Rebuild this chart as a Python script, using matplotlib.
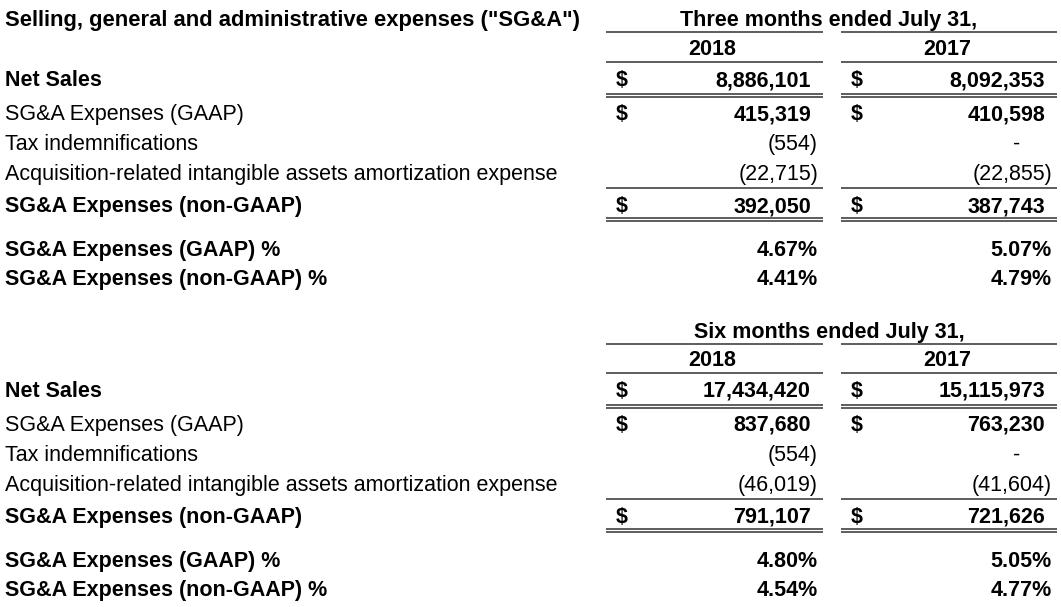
import matplotlib
matplotlib.use("Agg")
import matplotlib.pyplot as plt

plt.rcParams['font.family'] = ['Liberation Sans', 'DejaVu Sans']

title = 'Selling, general and administrative expenses ("SG&A")'
period_titles = ["Three months ended July 31,", "Six months ended July 31,"]
years = ["2018", "2017"]
row_labels = [
    "Net Sales",
    "SG&A Expenses (GAAP)",
    "Tax indemnifications",
    "Acquisition-related intangible assets amortization expense",
    "SG&A Expenses (non-GAAP)",
    "SG&A Expenses (GAAP) %",
    "SG&A Expenses (non-GAAP) %",
]
bold_labels = [True, False, False, False, True, True, True]
bold_values = [True, True, False, False, True, True, True]
dollar_rows = [True, True, False, False, True, False, False]

three_2018 = ["8,886,101", "415,319", "(554)", "(22,715)", "392,050", "4.67%", "4.41%"]
three_2017 = ["8,092,353", "410,598", "-", "(22,855)", "387,743", "5.07%", "4.79%"]
six_2018 = ["17,434,420", "837,680", "(554)", "(46,019)", "791,107", "4.80%", "4.54%"]
six_2017 = ["15,115,973", "763,230", "-", "(41,604)", "721,626", "5.05%", "4.77%"]

blocks = [(three_2018, three_2017), (six_2018, six_2017)]

W, H = 1061, 607
fig = plt.figure(figsize=(W / 100, H / 100), dpi=100)
ax = fig.add_axes([0, 0, 1, 1])
ax.set_xlim(0, W)
ax.set_ylim(H, 0)
ax.axis("off")

FS = 15.5
LC = "#505050"

# layout (pixels)
block_off = [0, 311]
row_y = [78, 112, 142, 172, 204, 248, 277]
head_y, year_y = 18, 47
col_left = [606, 841]
col_right = [823, 1057]
num_right = [811, 1045]
paren_right = [818, 1052]
dash_x = [783, 1017]
dollar_x = [616, 851]
bl = 8  # baseline offset from center


def hline(y, c):
    ax.plot([col_left[c], col_right[c]], [y, y], color=LC, lw=1.3, solid_capstyle="butt")


ax.text(5, head_y + bl, title, fontsize=15.8, fontweight="bold", va="baseline", ha="left")

for b, (v18, v17) in enumerate(blocks):
    o = block_off[b]
    ax.text(829, head_y + o + bl + (1 if b else 0), period_titles[b], fontsize=FS,
            fontweight="bold", ha="center", va="baseline")
    for c in range(2):
        hline(32 + o + (1 if b else 0), c)
        ax.text((col_left[c] + col_right[c]) / 2 - 2, year_y + o + bl, years[c],
                fontsize=FS, fontweight="bold", ha="center", va="baseline")
        hline(62 + o, c)
        # double under net sales
        hline(94 + o, c)
        hline(97 + o, c)
        # single before non-GAAP
        hline(188 + o, c)
        # double under non-GAAP
        hline(218 + o, c)
        hline(221 + o, c)
    for r, lab in enumerate(row_labels):
        y = row_y[r] + o + bl
        wl = "bold" if bold_labels[r] else "normal"
        w = "bold" if bold_values[r] else "normal"
        ax.text(5, y, lab, fontsize=FS, fontweight=wl, ha="left", va="baseline")
        for c, vals in enumerate((v18, v17)):
            v = vals[r]
            if dollar_rows[r]:
                ax.text(dollar_x[c], y, "$", fontsize=FS, fontweight="bold",
                        ha="left", va="baseline")
            if v == "-":
                ax.text(dash_x[c], y, v, fontsize=FS, fontweight=w, ha="center", va="baseline")
            elif v.endswith(")") or v.endswith("%"):
                ax.text(paren_right[c], y, v, fontsize=FS, fontweight=w, ha="right", va="baseline")
            else:
                ax.text(num_right[c], y, v, fontsize=FS, fontweight=w, ha="right", va="baseline")

fig.savefig("out.png", dpi=100, facecolor="white")
